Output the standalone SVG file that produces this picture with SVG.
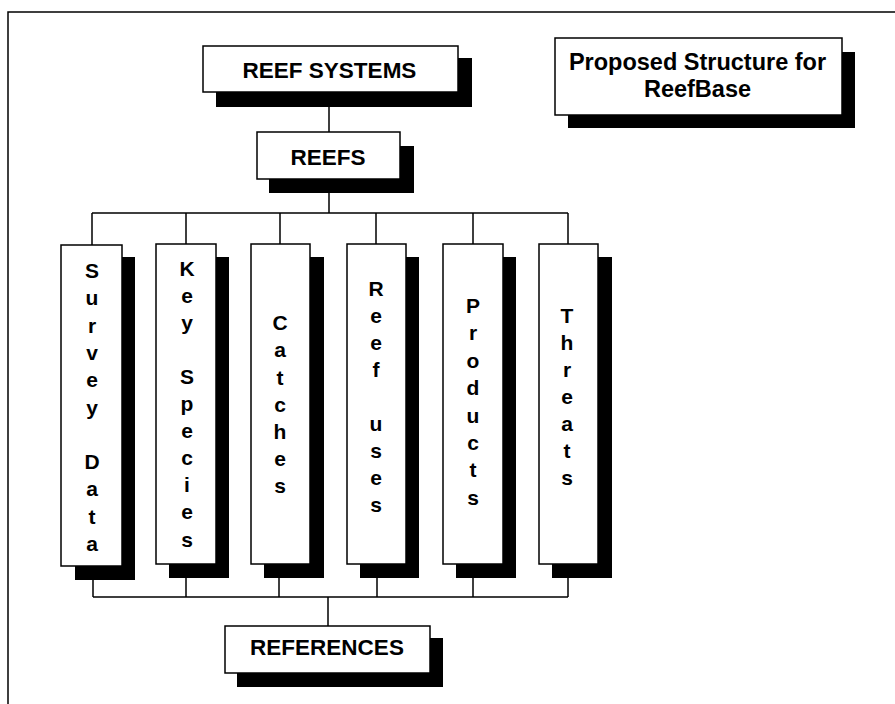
<svg xmlns="http://www.w3.org/2000/svg" width="895" height="704" viewBox="0 0 895 704">
<style>
.sh{fill:#000}
.bx{fill:#fff;stroke:#000;stroke-width:1.5}
.t{font-family:"Liberation Sans",Arial,sans-serif;font-weight:bold;fill:#000;text-anchor:middle}
.big{font-size:22.5px}
.v{font-size:21px}
.ln{fill:none;stroke:#000;stroke-width:1.5}
</style>
<rect width="895" height="704" fill="#fff"/>
<path class="ln" d="M8,704 V12 H895"/>
<g id="connectors">
<path class="ln" d="M329,92 V132 M329,179 V213 M92,213 H568 M92,213 V245 M186,213 V244 M280,213 V244 M376,213 V244 M473,213 V244 M568,213 V244"/>
<path class="ln" d="M93,580 V597 M186,578 V597 M279,578 V597 M377,578 V597 M473,578 V597 M568,578 V597 M93,597 H568 M328,597 V626"/>
</g>
<g id="reef-systems">
<rect class="sh" x="216" y="58" width="256" height="49"/>
<rect class="bx" x="203" y="46" width="255" height="46"/>
<text class="t big" x="329.5" y="78">REEF SYSTEMS</text>
</g>
<g id="title">
<rect class="sh" x="568" y="52" width="287" height="76"/>
<rect class="bx" x="555" y="38" width="287" height="77"/>
<text class="t" x="697.5" y="70" font-size="23.5">Proposed Structure for</text>
<text class="t" x="697.5" y="97" font-size="23.5">ReefBase</text>
</g>
<g id="reefs">
<rect class="sh" x="269" y="146" width="145" height="47"/>
<rect class="bx" x="257" y="132" width="143" height="47"/>
<text class="t big" x="328" y="165">REEFS</text>
</g>
<g id="survey-data">
<rect class="sh" x="75" y="257" width="60" height="323"/>
<rect class="bx" x="61" y="245" width="61" height="321"/>
<text class="t v"><tspan x="92" y="278">S</tspan><tspan x="92" y="305.3">u</tspan><tspan x="92" y="332.6">r</tspan><tspan x="92" y="359.9">v</tspan><tspan x="92" y="387.2">e</tspan><tspan x="92" y="414.5">y</tspan><tspan x="92" y="469">D</tspan><tspan x="92" y="496.3">a</tspan><tspan x="92" y="523.6">t</tspan><tspan x="92" y="551">a</tspan></text>
</g>
<g id="key-species">
<rect class="sh" x="169" y="257" width="60" height="321"/>
<rect class="bx" x="156" y="244" width="60" height="320"/>
<text class="t v"><tspan x="187" y="276">K</tspan><tspan x="187" y="303">e</tspan><tspan x="187" y="330">y</tspan><tspan x="187" y="384">S</tspan><tspan x="187" y="411">p</tspan><tspan x="187" y="438">e</tspan><tspan x="187" y="465">c</tspan><tspan x="187" y="492">i</tspan><tspan x="187" y="519">e</tspan><tspan x="187" y="547">s</tspan></text>
</g>
<g id="catches">
<rect class="sh" x="264" y="257" width="60" height="321"/>
<rect class="bx" x="251" y="244" width="59" height="320"/>
<text class="t v"><tspan x="280" y="330">C</tspan><tspan x="280" y="357">a</tspan><tspan x="280" y="385">t</tspan><tspan x="280" y="412">c</tspan><tspan x="280" y="439">h</tspan><tspan x="280" y="466">e</tspan><tspan x="280" y="493">s</tspan></text>
</g>
<g id="reef-uses">
<rect class="sh" x="360" y="257" width="59" height="321"/>
<rect class="bx" x="347" y="244" width="59" height="320"/>
<text class="t v"><tspan x="376" y="296">R</tspan><tspan x="376" y="323">e</tspan><tspan x="376" y="350">e</tspan><tspan x="376" y="377">f</tspan><tspan x="376" y="431">u</tspan><tspan x="376" y="458">s</tspan><tspan x="376" y="485">e</tspan><tspan x="376" y="512">s</tspan></text>
</g>
<g id="products">
<rect class="sh" x="456" y="257" width="60" height="321"/>
<rect class="bx" x="443" y="244" width="60" height="320"/>
<text class="t v"><tspan x="473" y="313">P</tspan><tspan x="473" y="340">r</tspan><tspan x="473" y="368">o</tspan><tspan x="473" y="395">d</tspan><tspan x="473" y="423">u</tspan><tspan x="473" y="450">c</tspan><tspan x="473" y="477">t</tspan><tspan x="473" y="505">s</tspan></text>
</g>
<g id="threats">
<rect class="sh" x="552" y="257" width="60" height="321"/>
<rect class="bx" x="539" y="244" width="59" height="320"/>
<text class="t v"><tspan x="567" y="323">T</tspan><tspan x="567" y="350">h</tspan><tspan x="567" y="377">r</tspan><tspan x="567" y="404">e</tspan><tspan x="567" y="431">a</tspan><tspan x="567" y="458">t</tspan><tspan x="567" y="485">s</tspan></text>
</g>
<g id="references">
<rect class="sh" x="237" y="638" width="206" height="49"/>
<rect class="bx" x="225" y="626" width="205" height="47"/>
<text class="t big" x="327" y="655">REFERENCES</text>
</g>
</svg>
